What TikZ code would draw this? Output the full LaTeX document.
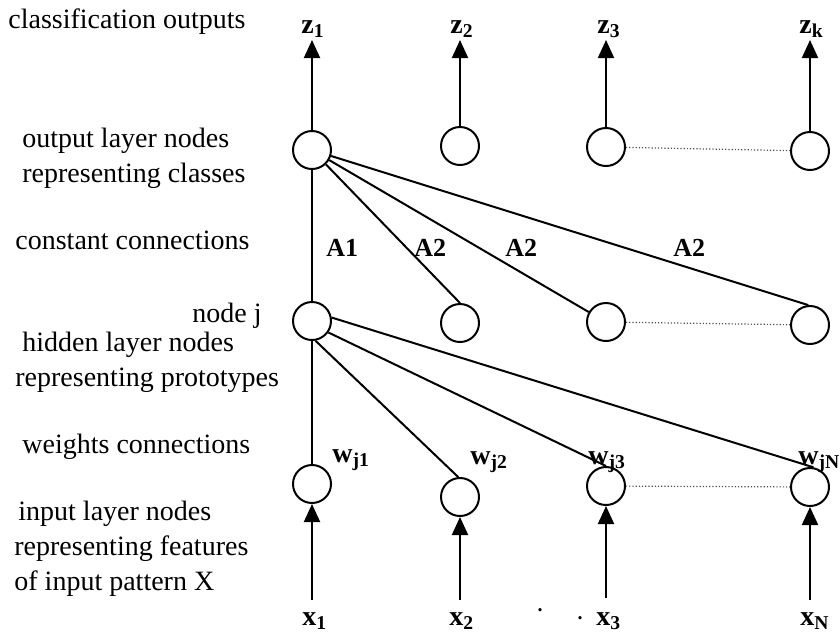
\documentclass[tikz,border=0pt]{standalone}
\usepackage{fontspec}
\setmainfont{Liberation Serif}
\usetikzlibrary{arrows.meta}
\newcommand\sublbl[2]{\textbf{#1\textsubscript{#2}}}
\begin{document}
\begin{tikzpicture}[x=0.5pt,y=-0.5pt,
  unit/.style={circle,draw,line width=1pt,minimum size=19pt,inner sep=0pt},
  conn/.style={line width=1pt},
  link/.style={line width=0.6pt,densely dotted,black!70},
  sig/.style={line width=1pt,-{Triangle[length=9pt,width=8pt]}},
  caption/.style={font=\fontsize{14}{16}\selectfont,anchor=base west,inner sep=0pt},
  tag/.style={font=\fontsize{14}{16}\selectfont,anchor=base west,inner sep=0pt},
  weight/.style={font=\fontsize{13}{15}\selectfont\bfseries,anchor=base west,inner sep=0pt}]
\useasboundingbox (0,0) rectangle (840,634);

% layer descriptions
\node[caption] (c1) at (8,28) {classification outputs};
\node[caption] (c2) at (22,147) {output layer nodes};
\node[caption] (c3) at (22,182) {representing classes};
\node[caption] (c4) at (15,249) {constant connections};
\node[caption,anchor=base east] (c5) at (262,322) {node j};
\node[caption] (c6) at (22,351) {hidden layer nodes};
\node[caption] (c7) at (15,386) {representing prototypes};
\node[caption] (c8) at (22,453) {weights connections};
\node[caption] (c9) at (18,520) {input layer nodes};
\node[caption] (c10) at (14,555) {representing features};
\node[caption] (c11) at (14,590) {of input pattern X};

% output layer
\node[unit] (o1) at (312,150) {};
\node[unit] (o2) at (460,146) {};
\node[unit] (o3) at (606,147) {};
\node[unit] (o4) at (810,151) {};
% hidden layer
\node[unit] (h1) at (312,321) {};
\node[unit] (h2) at (460,323) {};
\node[unit] (h3) at (606,322) {};
\node[unit] (h4) at (810,325) {};
% input layer
\node[unit] (i1) at (312,484) {};
\node[unit] (i2) at (460,497) {};
\node[unit] (i3) at (606,486) {};
\node[unit] (i4) at (810,487) {};

% outputs z
\coordinate (zt1) at (312,40);
\coordinate (zt2) at (460,40);
\coordinate (zt3) at (606,40);
\coordinate (zt4) at (810,40);
\node[tag] (z1) at (301,33) {\sublbl{z}{1}};
\node[tag] (z2) at (450,33) {\sublbl{z}{2}};
\node[tag] (z3) at (597,33) {\sublbl{z}{3}};
\node[tag] (z4) at (799,33) {\sublbl{z}{k}};
\foreach \k in {1,2,3,4} \draw[sig] (o\k.north) -- (zt\k);

% inputs x
\coordinate (xb1) at (312,600);
\coordinate (xb2) at (460,600);
\coordinate (xb3) at (606,598);
\coordinate (xb4) at (810,600);
\node[tag] (x1) at (302,625) {\sublbl{x}{1}};
\node[tag] (x2) at (449,625) {\sublbl{x}{2}};
\node[tag] (x3) at (596,625) {\sublbl{x}{3}};
\node[tag] (x4) at (800,625) {\sublbl{x}{N}};
\foreach \k in {1,2,3,4} \draw[sig] (xb\k) -- (i\k.south);
\node[font=\bfseries,inner sep=0pt] (d1) at (540,610) {.};
\node[font=\bfseries,inner sep=0pt] (d2) at (580,618) {.};

% constant connections
\draw[conn] (o1) -- (h1);
\draw[conn] (o1) -- (h2.north);
\draw[conn] (o1) -- (h3.150);
\draw[conn] (o1) -- (h4.95);
\node[weight] (a1) at (326,256) {A1};
\node[weight] (a2) at (414,256) {A2};
\node[weight] (a3) at (505,256) {A2};
\node[weight] (a4) at (673,256) {A2};

% weight connections
\draw[conn] (h1) -- (i1);
\draw[conn] (h1.-80) -- (i2.95);
\draw[conn] (h1.-35) -- (i3.north);
\draw[conn] (h1.10) -- (i4.80);
\node[tag] (w1) at (332,462) {\sublbl{w}{j1}};
\node[tag] (w2) at (470,464) {\sublbl{w}{j2}};
\node[tag] (w3) at (588,464) {\sublbl{w}{j3}};
\node[tag] (w4) at (798,464) {\sublbl{w}{jN}};

% elided units
\draw[link] (o3) -- (o4);
\draw[link] (h3) -- (h4);
\draw[link] (i3) -- (i4);
\end{tikzpicture}
\end{document}
